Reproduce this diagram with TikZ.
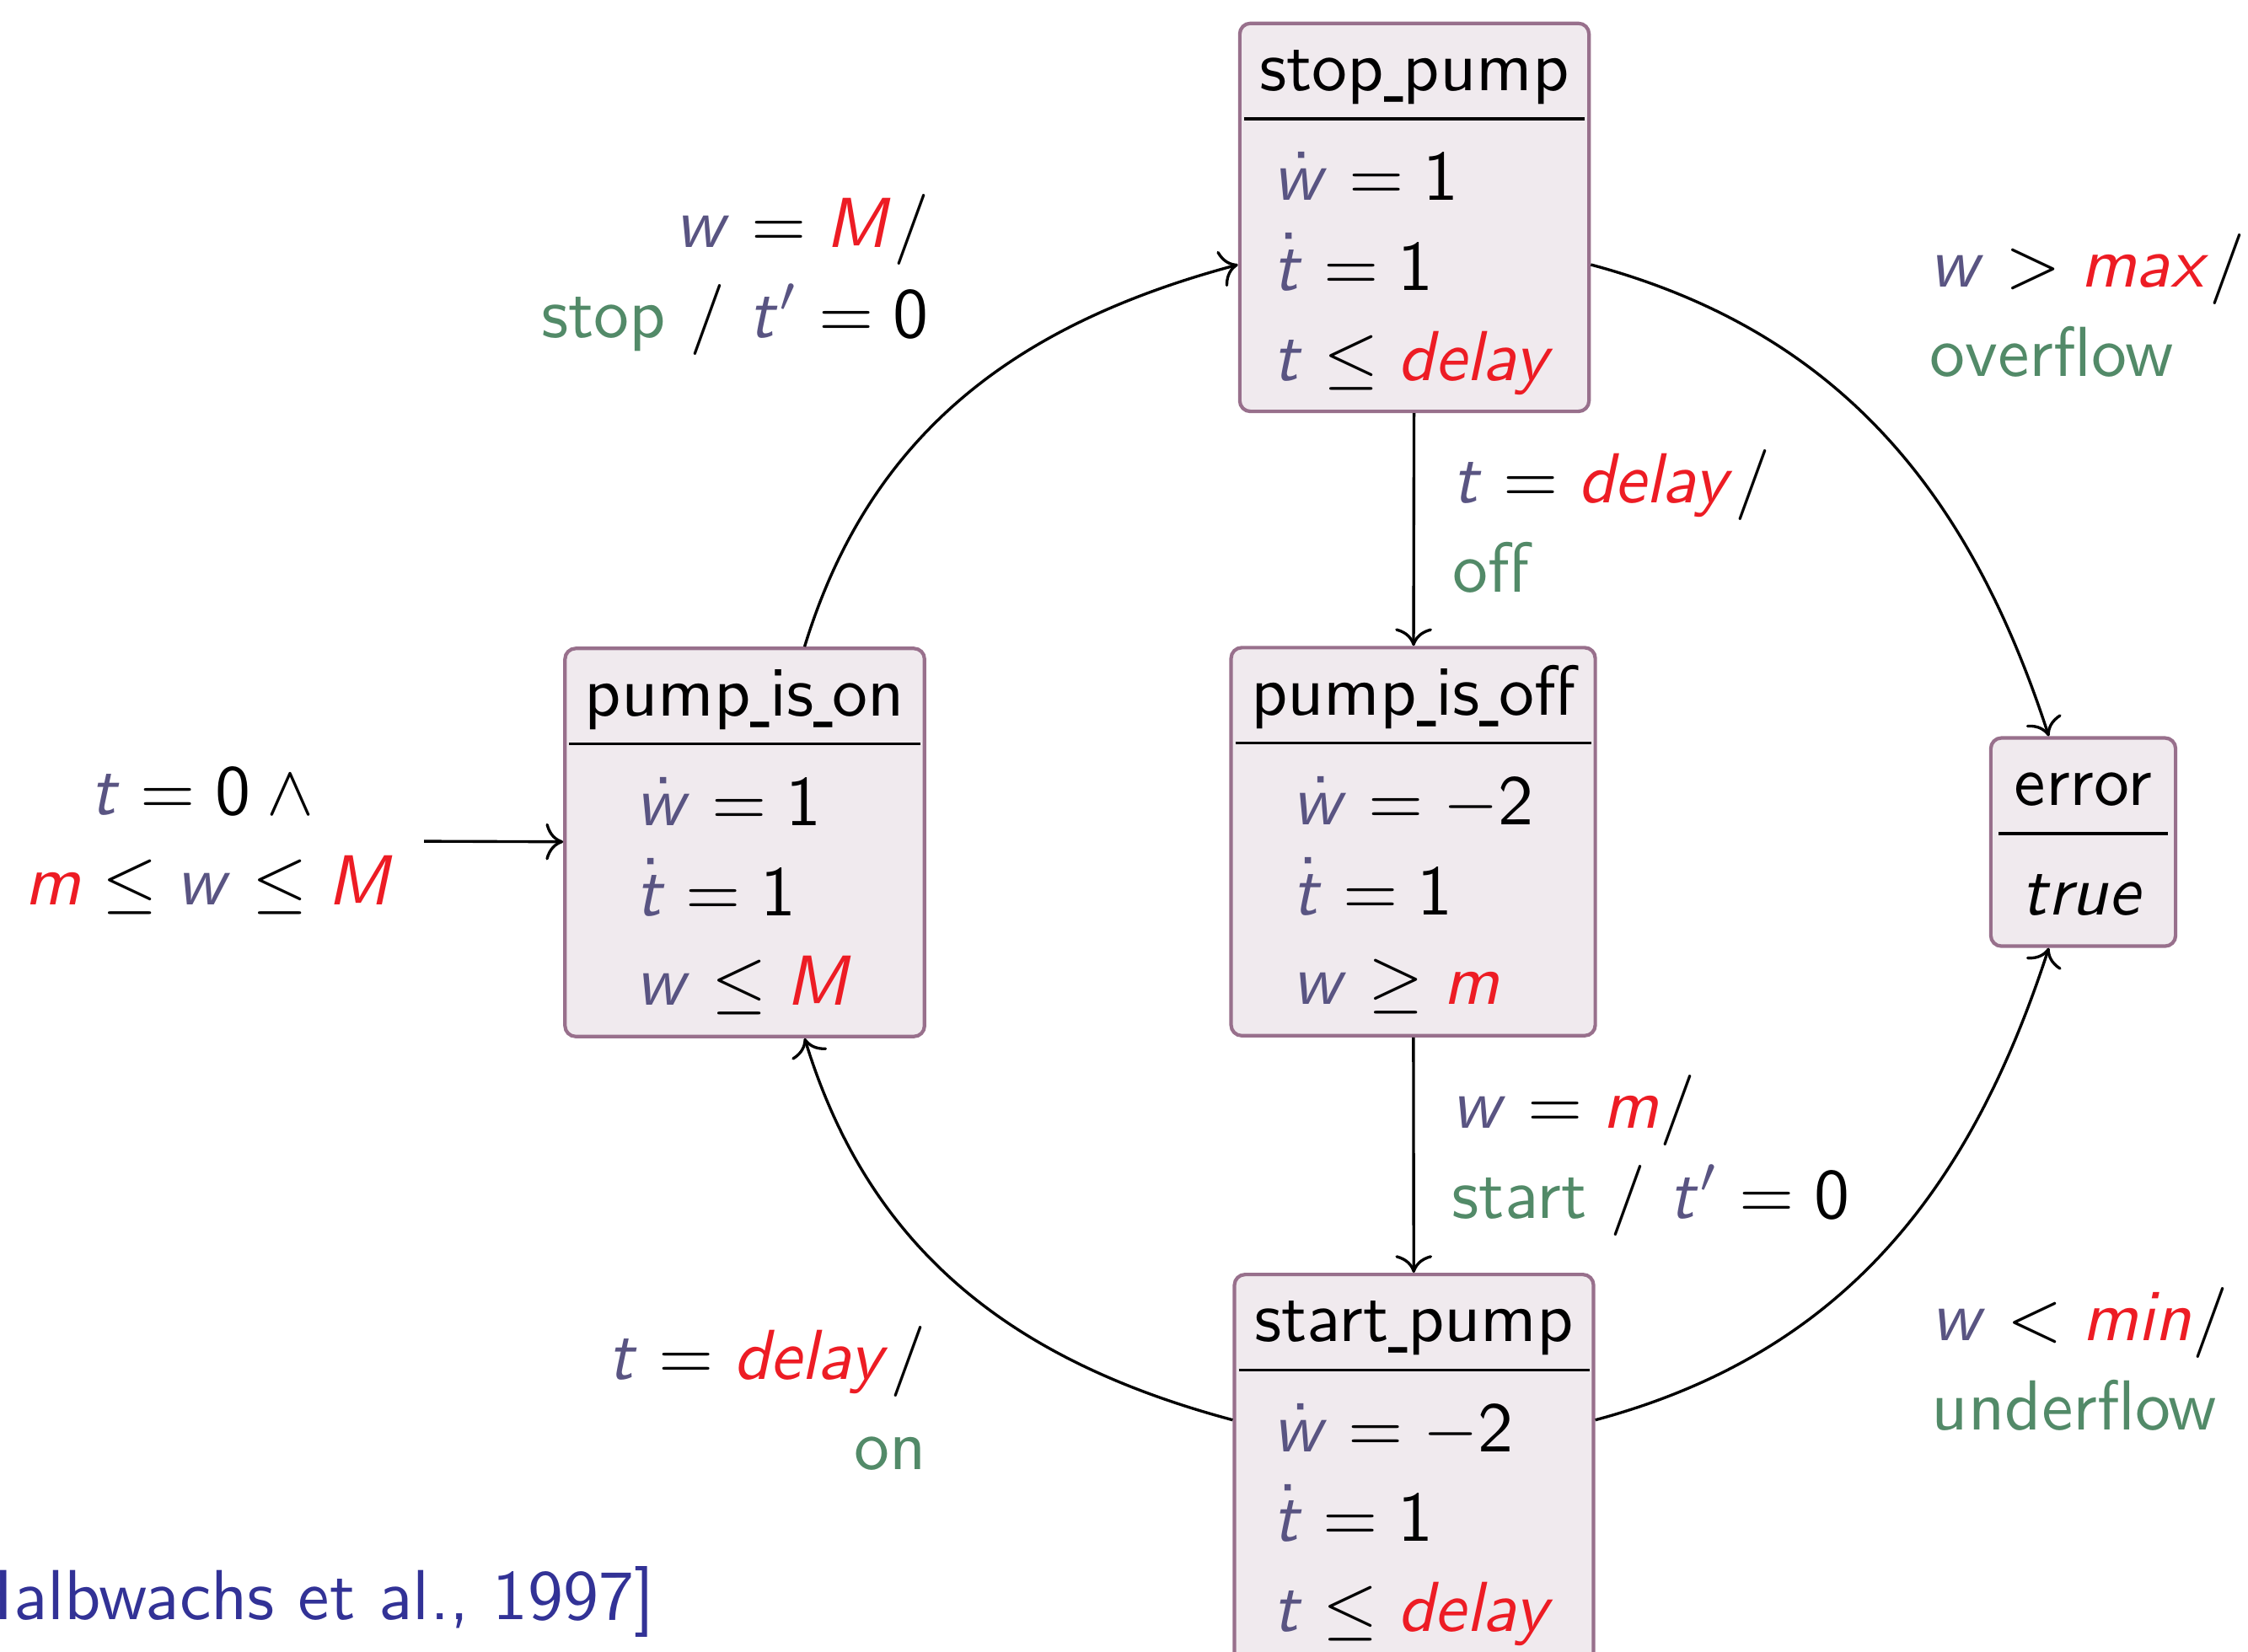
\documentclass[tikz,border=0pt]{standalone}
\usepackage{xcolor}
\usepackage{amsmath}
\usepackage{graphicx}
\usepackage{tikz}
\usetikzlibrary{arrows.meta,positioning}
\renewcommand{\familydefault}{\sfdefault}
% sans serif math, as on the slides
\DeclareSymbolFont{sfletters}{OT1}{cmss}{m}{sl}
\SetSymbolFont{operators}{normal}{OT1}{cmss}{m}{n}
\makeatletter
\def\sfletter#1{\DeclareMathSymbol{#1}{\mathalpha}{sfletters}{`#1}}
\@tfor\ch:=abcdefghijklmnopqrstuvwxyzABCDEFGHIJKLMNOPQRSTUVWXYZ\do{%
  \expandafter\sfletter\ch}
\makeatother
\definecolor{varcol}{RGB}{89,84,130}
\definecolor{cstcol}{RGB}{237,28,36}
\definecolor{evtcol}{RGB}{82,138,104}
\definecolor{modefill}{RGB}{240,234,238}
\definecolor{modeline}{RGB}{152,112,140}
\definecolor{citecol}{RGB}{50,50,150}
\newcommand{\varc}[1]{\textcolor{varcol}{#1}}
\newcommand{\cst}[1]{\textcolor{cstcol}{#1}}
\newcommand{\evt}[1]{\textcolor{evtcol}{#1}}
\newcommand{\us}{\scalebox{0.4}[1]{\_}}
\newcommand{\modebox}[2]{%
  \begin{tabular}{c}#1\\\hline
  \rule{0pt}{11.3pt}\begin{tabular}[t]{@{}l@{}}#2\end{tabular}\end{tabular}}
\setlength{\tabcolsep}{2.2pt}

\begin{document}
\begin{tikzpicture}[font=\fontsize{10}{12.7}\selectfont\sffamily]
  \tikzset{
    mode/.style={draw=modeline, fill=modefill, rounded corners=1.5pt,
                 line width=0.5pt, inner sep=0.6pt},
    guard/.style={inner sep=0pt},
    trans/.style={thin, -{To}}
  }
  \useasboundingbox (0,0) rectangle (11.159,-8.197);
  % Modes
  \node[mode] (stoppump) at (7.021,-1.079)
    {\modebox{stop\us pump}{$\varc{\dot{w}} = 1$\\ $\varc{\dot{t}} = 1$\\
     $\varc{t} \leq \cst{delay}$}};
  \node[mode] (pumpon) at (3.697,-4.182)
    {\modebox{pump\us is\us on}{$\varc{\dot{w}} = 1$\\ $\varc{\dot{t}} = 1$\\
     $\varc{w} \leq \cst{M}$}};
  \node[mode] (pumpoff) at (7.015,-4.178)
    {\modebox{pump\us is\us off}{$\varc{\dot{w}} = -2$\\ $\varc{\dot{t}} = 1$\\
     $\varc{w} \geq \cst{m}$}};
  \node[mode, anchor=north] (startpump) at (7.019,-6.318)
    {\modebox{start\us pump}{$\varc{\dot{w}} = -2$\\ $\varc{\dot{t}} = 1$\\
     $\varc{t} \leq \cst{delay}$}};
  \node[mode, minimum width=26.1pt] (error) at (10.341,-4.180)
    {\modebox{error}{$true$}};
  \coordinate (init) at (2.105,-4.176);
  % Transitions
  \draw[trans] (init) -- (pumpon);
  \draw[trans] (pumpon) to[out=73, in=195] (stoppump);
  \draw[trans] (stoppump) -- (pumpoff);
  \draw[trans] (pumpoff) -- (startpump);
  \draw[trans] (startpump) to[out=165, in=-73] (pumpon);
  \draw[trans] (stoppump) to[out=-15, in=108] (error);
  \draw[trans] (startpump) to[out=15, in=-108] (error);
  % Guards / events / resets (anchored at the last line)
  \node[guard, anchor=base, align=center] (initlbl) at (1.042,-4.490)
    {$\varc{t} = 0 \wedge{}$\\ $\cst{m} \leq \varc{w} \leq \cst{M}$};
  \node[guard, anchor=base east, align=right] (stoplbl) at (4.618,-1.674)
    {$\varc{w} = \cst{M}/$\\ \evt{stop} / $\varc{t'} = 0$};
  \node[guard, anchor=base west, align=left] (offlbl) at (7.205,-2.941)
    {$\varc{t} = \cst{delay}/$\\ \evt{off}};
  \node[guard, anchor=base west, align=left] (overlbl) at (9.573,-1.870)
    {$\varc{w} > \cst{max}/$\\ \evt{overflow}};
  \node[guard, anchor=base west, align=left] (startlbl) at (7.201,-6.046)
    {$\varc{w} = \cst{m}/$\\ \evt{start} / $\varc{t'} = 0$};
  \node[guard, anchor=base east, align=right] (onlbl) at (4.604,-7.293)
    {$\varc{t} = \cst{delay}/$\\ \evt{on}};
  \node[guard, anchor=base west, align=left] (underlbl) at (9.582,-7.100)
    {$\varc{w} < \cst{min}/$\\ \evt{underflow}};
  % Reference
  \node[guard, anchor=base east, text=citecol] (cite) at (3.258,-8.038)
    {[Halbwachs et al., 1997]};
\end{tikzpicture}
\end{document}
